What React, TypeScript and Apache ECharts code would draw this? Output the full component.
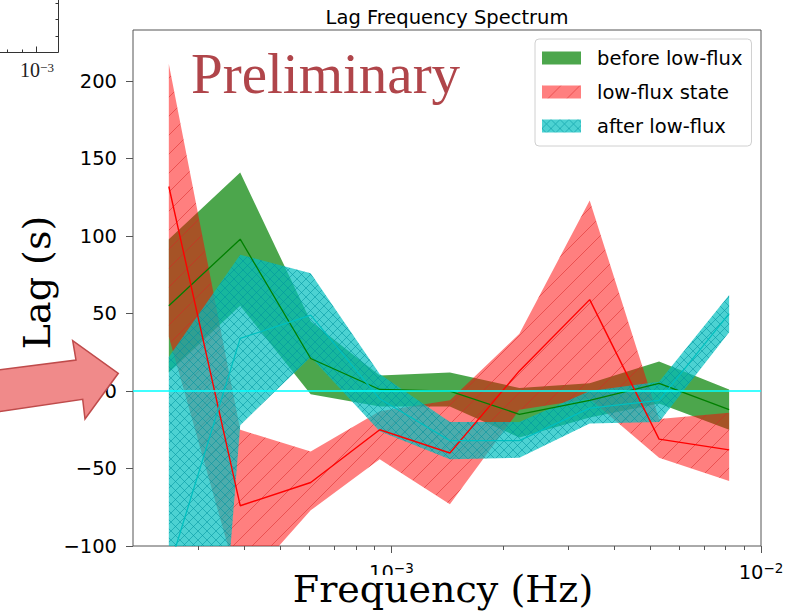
import React, { useEffect, useRef } from 'react';
import * as echarts from 'echarts';

// ---------- data ----------
const FREQ = [2.5e-4, 3.9e-4, 6.05e-4, 9.3e-4, 1.44e-3, 2.22e-3, 3.44e-3, 5.3e-3, 8.2e-3];

const BEFORE_LAG = [55, 98, 21, 1, 0, -15, -6, 5, -12];
const BEFORE_UPPER = [98, 141, 45, 10, 12, 2, 5, 19, 1];
const BEFORE_LOWER = [12, 55, -2, -10, -10, -30, -17, -8, -25];

const LOW_LAG = [132, -74, -59, -25, -40, 13, 59, -31, -38];
const LOW_UPPER = [211, -25, -39, -13, -6, 37, 123, -18, -14];
const LOW_LOWER = [35, -128, -77, -44, -73, -12, -5, -43, -58];

const AFTER_LAG = [-115, 34, 49, -5, -32, -32, -11, -6, 50];
const AFTER_UPPER = [22, 88, 76, 11, -20, -20, 0, 6, 62];
const AFTER_LOWER = [-600, -22, 22, -26, -44, -43, -21, -20, 38];

const X_RANGE = [2e-4, 1e-2];
const Y_RANGE = [-100, 233];
const Y_TICKS = [-100, -50, 0, 50, 100, 150, 200];
const X_MAJOR_TICKS = [1e-3, 1e-2];
const X_MINOR_TICKS = [3e-4, 4e-4, 5e-4, 6e-4, 7e-4, 8e-4, 9e-4, 2e-3, 3e-3, 4e-3, 5e-3, 6e-3, 7e-3, 8e-3, 9e-3];
const LEGEND_NAMES = ['before low-flux', 'low-flux state', 'after low-flux'];
const ZERO_LINE = [0, 0];

// ---------- styles ----------
const AXIS_COLOR = '#555555';
const SANS = '"DejaVu Sans", sans-serif';

function makeHatch(size: number, bg: string, line: string, cross: boolean) {
  const c = document.createElement('canvas');
  c.width = size;
  c.height = size;
  const ctx = c.getContext('2d')!;
  ctx.fillStyle = bg;
  ctx.fillRect(0, 0, size, size);
  ctx.strokeStyle = line;
  ctx.lineWidth = 1;
  const seg = (x0: number, y0: number, x1: number, y1: number) => {
    ctx.beginPath();
    ctx.moveTo(x0, y0);
    ctx.lineTo(x1, y1);
    ctx.stroke();
  };
  seg(-1, size + 1, size + 1, -1);
  seg(-1, 1, 1, -1);
  seg(size - 1, size + 1, size + 1, size - 1);
  if (cross) {
    seg(-1, -1, size + 1, size + 1);
    seg(-1, size - 1, 1, size + 1);
    seg(size - 1, -1, size + 1, 1);
  }
  return { image: c, repeat: 'repeat' } as any;
}

function buildOption() {
  const greenFill = 'rgba(0,128,0,0.7)';
  const redFill = makeHatch(19, 'rgba(255,0,0,0.5)', 'rgba(215,35,35,0.5)', false);
  const cyanFill = makeHatch(9, 'rgba(0,191,191,0.7)', 'rgba(0,150,160,0.55)', true);

  const band = (name: string, upper: number[], lower: number[], fill: any, z: number) => ({
    type: 'custom',
    name,
    z,
    clip: true,
    silent: true,
    coordinateSystem: 'cartesian2d',
    data: FREQ.map((f, i) => [f, lower[i], upper[i]]),
    encode: { x: 0, y: [1, 2] },
    itemStyle: { color: fill },
    renderItem: (params: any, api: any) => {
      if (params.dataIndex !== 0) return { type: 'group', children: [] };
      const top = FREQ.map((f, i) => api.coord([f, upper[i]]));
      const bottom = FREQ.map((f, i) => api.coord([f, lower[i]])).reverse();
      return {
        type: 'polygon',
        shape: { points: top.concat(bottom) },
        style: { fill, stroke: null },
      };
    },
  });

  const line = (name: string, values: number[], color: string, width: number) => ({
    type: 'line',
    name,
    z: 5,
    silent: true,
    clip: true,
    symbol: 'none',
    data: FREQ.map((f, i) => [f, values[i]]),
    lineStyle: { color, width },
  });

  const tickData = [
    ...X_MAJOR_TICKS.map((v) => [v, 1]),
    ...X_MINOR_TICKS.map((v) => [v, 0]),
  ];

  const supLabel = (v: number) => {
    const e = Math.log10(v);
    if (Math.abs(e - Math.round(e)) > 1e-6) return '';
    return `{b|10}{s|${String(Math.round(e)).replace('-', '\u2212')}}`;
  };

  return {
    animation: false,
    backgroundColor: '#ffffff',
    grid: {
      left: 133,
      top: 30,
      width: 628,
      height: 516,
      show: true,
      borderColor: AXIS_COLOR,
      borderWidth: 1,
      backgroundColor: 'transparent',
    },
    xAxis: {
      type: 'log',
      logBase: 10,
      min: X_RANGE[0],
      max: X_RANGE[1],
      axisLine: { show: false },
      axisTick: { show: false },
      splitLine: { show: false },
      minorTick: { show: false },
      minorSplitLine: { show: false },
      axisLabel: {
        margin: 15,
        formatter: (v: number) => supLabel(v),
        rich: {
          b: { fontSize: 19.5, fontFamily: SANS, color: '#000', lineHeight: 22 },
          s: { fontSize: 13.5, fontFamily: SANS, color: '#000', lineHeight: 12, verticalAlign: 'top' },
        },
      },
    },
    yAxis: {
      type: 'value',
      min: Y_RANGE[0],
      max: Y_RANGE[1],
      interval: 50,
      axisLine: { show: false },
      splitLine: { show: false },
      axisTick: {
        show: true,
        length: 7,
        customValues: Y_TICKS,
        lineStyle: { color: AXIS_COLOR, width: 1 },
      },
      axisLabel: {
        customValues: Y_TICKS,
        margin: 16,
        fontSize: 19.5,
        fontFamily: SANS,
        color: '#000',
        formatter: (v: number) => String(v).replace('-', '\u2212'),
      },
    },
    legend: {
      orient: 'vertical',
      left: 535,
      top: 39,
      itemWidth: 39,
      itemHeight: 13,
      itemGap: 14,
      padding: [9, 9, 10, 7],
      selectedMode: false,
      backgroundColor: 'rgba(255,255,255,0.8)',
      borderColor: '#d0d0d0',
      borderWidth: 1,
      borderRadius: 4,
      textStyle: {
        fontSize: 19.5,
        fontFamily: SANS,
        color: '#000',
        lineHeight: 16,
        padding: [0, 0, 0, 11],
      },
      data: [
        { name: LEGEND_NAMES[0], icon: 'rect', itemStyle: { color: greenFill, borderWidth: 0 } },
        { name: LEGEND_NAMES[1], icon: 'rect', itemStyle: { color: redFill, borderWidth: 0 } },
        { name: LEGEND_NAMES[2], icon: 'rect', itemStyle: { color: cyanFill, borderWidth: 0 } },
      ],
    },
    graphic: [
      {
        type: 'text',
        z: 100,
        x: 447,
        y: 17.5,
        style: {
          text: 'Lag Frequency Spectrum',
          fontSize: 19.5,
          fontFamily: SANS,
          fill: '#000',
          align: 'center',
          verticalAlign: 'middle',
        },
      },
      {
        type: 'text',
        z: 100,
        x: 191,
        y: 73.5,
        style: {
          text: 'Preliminary',
          fontSize: 57,
          fontFamily: '"Liberation Serif", serif',
          fill: '#b0454a',
          align: 'left',
          verticalAlign: 'middle',
        },
      },
      {
        type: 'text',
        z: 100,
        x: 443,
        y: 589,
        style: {
          text: 'Frequency (Hz)',
          fontSize: 38,
          fontFamily: '"DejaVu Serif", serif',
          fill: '#000',
          align: 'center',
          verticalAlign: 'middle',
          lineHeight: 28,
          backgroundColor: '#ffffff',
        },
      },
      {
        type: 'text',
        z: 100,
        x: 37,
        y: 282.5,
        rotation: Math.PI / 2,
        style: {
          text: 'Lag (s)',
          fontSize: 38,
          fontFamily: '"DejaVu Serif", serif',
          fill: '#000',
          align: 'center',
          verticalAlign: 'middle',
        },
      },
      // big arrow pointing at zero lag
      {
        type: 'polygon',
        z: 100,
        shape: {
          points: [
            [-2, 370],
            [76, 360],
            [72.7, 340.7],
            [118.3, 373.3],
            [85, 419],
            [82.7, 399.3],
            [-2, 411.7],
          ],
        },
        style: { fill: '#f08a8a', stroke: '#bf4b4b', lineWidth: 1.5 },
      },
      // fragment of neighbouring panel (top-left)
      {
        type: 'group',
        z: 100,
        children: [
          { type: 'line', shape: { x1: 0, y1: 52.5, x2: 58.5, y2: 52.5 }, style: { stroke: '#333', lineWidth: 1 } },
          { type: 'line', shape: { x1: 58.5, y1: 0, x2: 58.5, y2: 52.5 }, style: { stroke: '#333', lineWidth: 1 } },
          { type: 'line', shape: { x1: 55.5, y1: 3.5, x2: 58.5, y2: 3.5 }, style: { stroke: '#333', lineWidth: 1 } },
          { type: 'line', shape: { x1: 55.5, y1: 19.5, x2: 58.5, y2: 19.5 }, style: { stroke: '#333', lineWidth: 1 } },
          { type: 'line', shape: { x1: 55.5, y1: 36.5, x2: 58.5, y2: 36.5 }, style: { stroke: '#333', lineWidth: 1 } },
          { type: 'line', shape: { x1: 7.5, y1: 49.5, x2: 7.5, y2: 52.5 }, style: { stroke: '#333', lineWidth: 1 } },
          { type: 'line', shape: { x1: 22.5, y1: 49.5, x2: 22.5, y2: 52.5 }, style: { stroke: '#333', lineWidth: 1 } },
          { type: 'line', shape: { x1: 36.5, y1: 46.5, x2: 36.5, y2: 52.5 }, style: { stroke: '#333', lineWidth: 1 } },
          {
            type: 'text',
            x: 37,
            y: 70,
            style: {
              text: '{b|10}{s|\u22123}',
              align: 'center',
              verticalAlign: 'middle',
              rich: {
                b: { fontSize: 20, fontFamily: '"Liberation Serif", serif', fill: '#222', lineHeight: 18 },
                s: { fontSize: 13, fontFamily: '"Liberation Serif", serif', fill: '#222', lineHeight: 10, verticalAlign: 'top' },
              },
            },
          },
        ],
      },
    ],
    series: [
      band(LEGEND_NAMES[0], BEFORE_UPPER, BEFORE_LOWER, greenFill, 1),
      band(LEGEND_NAMES[1], LOW_UPPER, LOW_LOWER, redFill, 2),
      band(LEGEND_NAMES[2], AFTER_UPPER, AFTER_LOWER, cyanFill, 3),
      line('before low-flux lag', BEFORE_LAG, '#008000', 1.3),
      line('low-flux state lag', LOW_LAG, '#ff0000', 1.4),
      line('after low-flux lag', AFTER_LAG, '#00bfbf', 1.3),
      {
        type: 'line',
        name: 'zero',
        z: 6,
        silent: true,
        symbol: 'none',
        data: [
          [X_RANGE[0], ZERO_LINE[0]],
          [X_RANGE[1], ZERO_LINE[1]],
        ],
        lineStyle: { color: '#00ffff', width: 1.6 },
      },
      {
        type: 'custom',
        name: 'x ticks',
        z: 10,
        clip: false,
        silent: true,
        coordinateSystem: 'cartesian2d',
        data: tickData,
        encode: { x: 0, y: 1 },
        renderItem: (params: any, api: any) => {
          const v = api.value(0);
          const major = api.value(1) === 1;
          const p = api.coord([v, Y_RANGE[0]]);
          const x = Math.round(p[0]) + 0.5;
          return {
            type: 'line',
            shape: { x1: x, y1: p[1], x2: x, y2: p[1] + (major ? 7 : 4) },
            style: { stroke: AXIS_COLOR, lineWidth: 1 },
          };
        },
      },
    ],
  };
}

export default function App() {
  const ref = useRef<HTMLDivElement>(null);
  useEffect(() => {
    const chart = echarts.init(ref.current!, null, { renderer: 'svg' });
    chart.setOption(buildOption() as any);
    return () => chart.dispose();
  }, []);
  return (
    <div
      ref={ref}
      style={{ position: 'fixed', left: 0, top: 0, width: 798, height: 613, background: '#fff' }}
    />
  );
}
